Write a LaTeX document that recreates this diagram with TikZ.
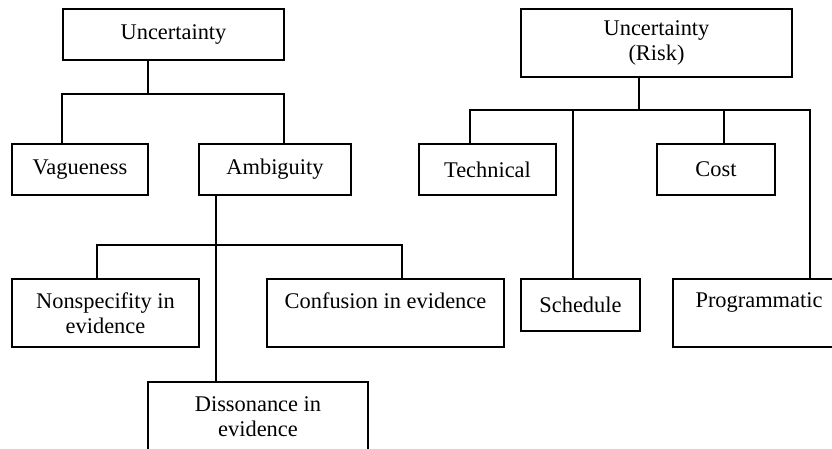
\documentclass[tikz,border=0pt]{standalone}
\usepackage{fontspec}
\setmainfont{Liberation Serif}

\begin{document}
\begin{tikzpicture}[
	x=0.5pt, y=-0.5pt,
	box/.style={draw, line width=1pt, inner sep=0pt, align=center,
		font=\fontsize{11.2}{12.5}\selectfont},
	short/.style={box, minimum height=25.5pt},
	tall/.style={box, minimum height=34pt},
	link/.style={line width=0.8pt}]
\clip (0,0) rectangle (832,449);
% left tree
\node[short, minimum width=110.5pt] (unc) at (173.5,34.5) {Uncertainty};
\node[short, minimum width=68pt] (vag) at (80,169.5) {Vagueness};
\node[short, minimum width=76pt] (amb) at (275,169.5) {Ambiguity};
\node[tall, minimum width=93.5pt] (nons) at (105.5,313) {Nonspecifity in\\evidence};
\node[tall, minimum width=118.5pt] (conf) at (385.5,313) {Confusion in evidence\\\mbox{}};
\node[tall, minimum width=110pt, minimum height=35pt] (diss) at (258,417) {Dissonance in\\evidence};
% right tree
\node[tall, minimum width=135.5pt] (risk) at (656.5,43) {Uncertainty\\(Risk)};
\node[short, minimum width=68.5pt] (tech) at (487.5,169.5) {Technical};
\node[short, minimum width=59pt] (cost) at (716,169.5) {Cost};
\node[box, minimum width=59.5pt, minimum height=26pt] (sched) at (580.5,305) {Schedule};
\node[tall, minimum width=86pt] (prog) at (759,313) {Programmatic\\\mbox{}};

\coordinate (u1) at (148,94);
\coordinate (u2) at (62,94);
\coordinate (u3) at (284,94);
\coordinate (a1) at (216,245);
\coordinate (a2) at (97,245);
\coordinate (a3) at (402,245);
\coordinate (r1) at (639,110);
\coordinate (r2) at (470,110);
\coordinate (r3) at (573,110);
\coordinate (r4) at (724,110);
\coordinate (r5) at (810,110);

\draw[link] (unc.south -| u1) -- (u1);
\draw[link] (vag.north -| u2) -- (u2) -- (u3) -- (amb.north -| u3);
\draw[link] (amb.south -| a1) -- (diss.north -| a1);
\draw[link] (nons.north -| a2) -- (a2) -- (a3) -- (conf.north -| a3);
\draw[link] (risk.south -| r1) -- (r1);
\draw[link] (tech.north -| r2) -- (r2) -- (r5) -- (prog.north -| r5);
\draw[link] (sched.north -| r3) -- (r3);
\draw[link] (cost.north -| r4) -- (r4);
\end{tikzpicture}
\end{document}
